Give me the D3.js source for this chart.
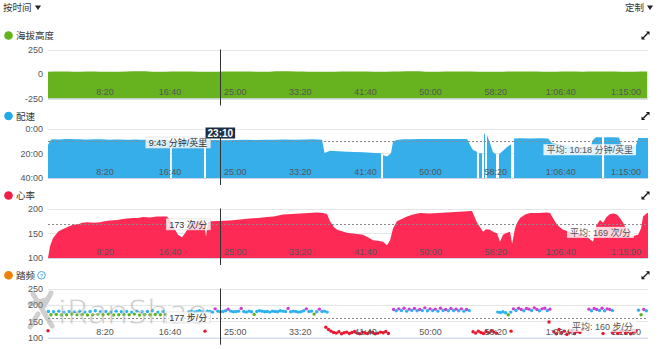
<!DOCTYPE html>
<html><head><meta charset="utf-8">
<script src="https://cdn.jsdelivr.net/npm/d3@7"></script>
<style>
body{margin:0;background:#fff}
svg{display:block;font-family:"Liberation Sans",Arial,"Noto Sans CJK SC",sans-serif}
</style></head>
<body><svg id="c" width="660" height="349"></svg>
<script>
// ---------------- DATA ----------------
const timeDomain = [67, 4673];               // seconds
const xTicks = [500,1000,1500,2000,2500,3000,3500,4000,4500];

const altTicks = [-250, 0, 250];
const altStart = 67, altStep = 100;
const altitude = [24,25,23,26,24,22,25,27,24,23,25,26,22,24,26,25,23,24,27,25,23,22,24,26,25,23,24,25,27,24,23,25,26,24,22,24,25,26,24,23,25,24,26,25,23,24,25];

const paceTicks = [0, 20, 40];                // minutes per mile
const pace = [
 [67,13.3],[82,10],[97,8.7],[159,8.8],[200,8.5],[236,8.4],[280,8.7],[313,8.6],[350,8.8],[390,8.9],[430,8.6],[466,8.7],
 [510,8.9],[543,9.0],[580,8.8],[620,8.8],[660,9.0],[697,9.1],[740,8.9],[774,9.0],[810,9.1],[850,9.2],[890,9.0],[927,9.0],
 [970,9.2],[1004,9.3],[1011,null],[1018,9.5],[1080,9.6],[1157,9.4],[1234,9.3],[1265,9.4],[1272,null],[1280,9.4],
 [1349,9.2],[1426,9.4],[1503,9.2],[1580,9.0],[1657,9.3],[1733,9.1],[1810,9.0],[1887,8.9],[1964,9.1],[2040,8.8],
 [2102,8.7],[2171,9.0],[2190,19.8],[2232,17.9],[2300,18.3],[2362,18.7],[2420,18.9],[2485,19.2],[2550,19.6],[2616,20],
 [2624,20],[2632,null],[2639,21.4],[2669,22.7],[2700,20],[2716,10.6],[2746,9.3],[2792,8.7],[2860,8.6],[2923,8.5],
 [3000,8.4],[3076,8.4],[3150,8.5],[3230,8.4],[3284,8.5],[3307,13.3],[3330,17.3],[3360,18.7],[3368,null],[3376,20],
 [3399,20],[3407,null],[3414,3.9],[3422,5],[3430,null],[3437,5.2],[3460,12],[3483,19],[3506,21],[3522,null],
 [3529,21],[3560,18],[3591,15],[3622,12.7],[3630,null],[3645,8.0],[3691,7.9],[3768,8.0],[3845,7.8],[3906,8.0],
 [3937,12],[3998,13],[4075,14],[4152,15],[4228,16],[4251,9],[4274,7],[4320,7],[4328,null],[4336,7.1],[4397,7.0],
 [4451,7.2],[4466,13],[4535,15],[4581,14],[4597,7.7],[4673,7.7]
];
const paceAvg = 10.3, paceAvgLabel = "10:18", paceCursorLabel = "9:43";

const hrTicks = [100, 150, 200];
const heartRate = [
 [67,100],[82,123],[105,140],[144,153],[170,157],[197,160],[230,164],[259,167],[300,168],[330,171],[366,172],[420,171],
 [466,172],[500,174],[543,176],[600,177],[640,179],[674,180],[720,181],[760,181],[796,183],[850,182],[900,184],[980,184],
 [1004,177],[1027,164],[1065,147],[1096,142],[1119,150],[1157,167],[1200,172],[1234,174],[1265,173],[1280,143],
 [1295,172],[1311,174],[1380,175],[1464,176],[1540,178],[1618,180],[1680,181],[1748,183],[1800,184],[1871,188],
 [1940,189],[2002,190],[2070,191],[2132,192],[2180,191],[2209,189],[2232,174],[2260,163],[2286,157],[2362,151],
 [2420,149],[2485,147],[2530,141],[2562,136],[2600,135],[2639,133],[2669,126],[2693,136],[2716,160],[2746,174],
 [2790,180],[2823,184],[2870,188],[2923,191],[2999,190],[3060,191],[3130,192],[3190,193],[3253,194],[3322,195],
 [3361,171],[3407,153],[3430,158],[3460,157],[3490,152],[3514,150],[3537,133],[3560,147],[3590,151],[3614,153],
 [3630,129],[3652,160],[3670,172],[3691,181],[3730,188],[3768,191],[3830,191],[3898,192],[3921,191],[3950,178],
 [3975,167],[4021,157],[4070,153],[4129,150],[4170,147],[4205,143],[4251,133],[4275,165],[4305,177],[4328,171],
 [4355,183],[4382,189],[4410,190],[4435,188],[4460,180],[4482,171],[4510,156],[4535,143],[4597,147],[4620,160],
 [4635,184],[4666,191],[4673,191]
];
const hrAvg = 169, hrCursor = 173;

const cadTicks = [100, 150, 200, 250];
const cadStep = 20;
const cadenceRuns = [
 {t0:70, vals:[180,170,179,171,181,169,178,170,180,172,179,170,181,171,178,169,180,170,182,171,179,170,180,172,178,169,181,170,179,171,180,170,178,172,181,169,179,171,180,170,182,171,178,170,180,171]},
 {t0:1150, vals:[179,181,178,180,182,179,170,181,180,178,188,181,179,180,182,187,181,179,180,181,189,180,178,181,179,171,180,182,181,179,180,178,181,180,179,182,181,180,189,179,181,180,178,179,182,188,180,181,172,179,187,180,181,178]},
 {t0:2200, vals:[132,125,120,116,114,118,112,115,117,113,116,119,114,112,117,115,113,118,116,112,114,117,115,119,113]},
 {t0:2720, vals:[186,182,188,183,190,181,187,183,189,182,186,183,191,182,188,183,187,181,190,183,186,182,189,183,187,182,188,181,186,183]},
 {t0:3330, vals:[118,114,120,116,113,119,115,121,117,114]},
 {t0:3520, vals:[178,177,179,176,170,178]},
 {t0:3640, vals:[188,183,190,186,182,189,187,183,191,186,182,188,190,183,187]},
 {t0:3950, vals:[118,112,125,115,120,110,117,122,113,119,116,124]},
 {t0:4220, vals:[187,182,189,186,183,190,182,188,186,183]},
 {t0:4400, vals:[116,120,113,118,122,114,119,112,117,121]},
 {t0:4600, vals:[184,170,186,182]}
];
const cadenceSingles = [[67,121],[1272,120],[3622,120],[3913,148],[4328,113]];
const cadAvg = 160, cadCursor = 177;
const cursorTime = 1390;

// ---------------- HELPERS ----------------
const svg = d3.select("#c");
const pad = n => String(n).padStart(2, "0");
const fmtTime = s => { const h=Math.floor(s/3600), m=Math.floor(s%3600/60), ss=s%60;
  return h ? `${h}:${pad(m)}:${pad(ss)}` : `${m}:${pad(ss)}`; };
const cadColor = v => v>=185 ? "#d43ad6" : v>=174 ? "#2eb1ef" : v>=164 ? "#5cb31c" : v>=153 ? "#f39200" : "#e8162f";

const L = 48, R = 648;
const x = d3.scaleLinear().domain(timeDomain).range([L, R]);
const cx = x(cursorTime);

// top bar
svg.append("text").attr("x",3).attr("y",11).attr("font-size",9.5).attr("fill","#333").text("按时间");
svg.append("path").attr("d","M35,5.5h6l-3,4.5z").attr("fill","#222");
svg.append("text").attr("x",644).attr("y",11).attr("text-anchor","end").attr("font-size",9.5).attr("fill","#333").text("定制");
svg.append("path").attr("d","M647,5.5h6l-3,4.5z").attr("fill","#222");

const panels = [
 {title:"海拔高度", dot:"#64b31c", ly:35.5, top:49.5, bottom:98.5, domain:[-250,250], ticks:altTicks, fmt:d=>d},
 {title:"配速", dot:"#22a9e8", ly:116, top:128.5, bottom:178, domain:[0,40], inverted:true, ticks:paceTicks, fmt:d=>`${d}:00`},
 {title:"心率", dot:"#f01d47", ly:195.5, top:208.5, bottom:258, domain:[100,200], ticks:hrTicks, fmt:d=>d},
 {title:"踏频", dot:"#f08000", ly:275.3, top:288.5, bottom:337.7, domain:[100,250], ticks:cadTicks, fmt:d=>d, help:true}
];

panels.forEach(p => {
  p.y = d3.scaleLinear().domain(p.domain).range(p.inverted ? [p.top, p.bottom] : [p.bottom, p.top]);
  const g = svg.append("g");
  g.append("circle").attr("cx",8.5).attr("cy",p.ly).attr("r",4.3).attr("fill",p.dot);
  g.append("text").attr("x",16).attr("y",p.ly+3.5).attr("font-size",9.5).attr("fill","#333").text(p.title);
  if (p.help) {
    g.append("circle").attr("cx",41.5).attr("cy",p.ly).attr("r",3.8).attr("fill","none").attr("stroke","#3a9fe0").attr("stroke-width",0.9);
    g.append("text").attr("x",41.5).attr("y",p.ly+2.3).attr("text-anchor","middle").attr("font-size",6).attr("fill","#3a9fe0").text("?");
  }
  const ex = 645.5, ey = p.ly;
  g.append("path").attr("d",`M${ex+4},${ey-4}h-3.6l3.6,3.6z M${ex-4},${ey+4}h3.6l-3.6,-3.6z`).attr("fill","#111");
  g.append("path").attr("d",`M${ex-2.2},${ey+2.2}L${ex+2.2},${ey-2.2}`).attr("stroke","#111").attr("stroke-width",1.3);
  g.selectAll(".grid").data(p.ticks).join("line")
    .attr("x1",L).attr("x2",R).attr("y1",d=>Math.round(p.y(d))+0.5).attr("y2",d=>Math.round(p.y(d))+0.5)
    .attr("stroke","#e6e6e6");
  const ay = g.append("g").attr("transform",`translate(${L},0)`)
    .call(d3.axisLeft(p.y).tickValues(p.ticks).tickFormat(p.fmt).tickSize(0).tickPadding(5));
  ay.select(".domain").remove();
  ay.selectAll("text").attr("font-size",9).attr("fill","#555").attr("font-family",null);
  p.g = g;
});

{
  const p = panels[0];
  p.g.append("path").datum(altitude)
    .attr("d", d3.area().x((d,i)=>x(altStart+i*altStep)).y0(p.y(-250)).y1(d=>p.y(d)).curve(d3.curveMonotoneX))
    .attr("fill","#66b31f");
}
{
  const p = panels[1];
  p.g.append("path").datum(pace)
    .attr("d", d3.area().defined(d=>d[1]!=null).x(d=>x(d[0])).y0(p.y(40)).y1(d=>p.y(d[1])))
    .attr("fill","#35aeea");
}
{
  const p = panels[2];
  p.g.append("path").datum(heartRate)
    .attr("d", d3.area().x(d=>x(d[0])).y0(p.y(100)).y1(d=>p.y(d[1])))
    .attr("fill","#fd2a55");
}
{
  const p = panels[3];
  const pts = [];
  cadenceRuns.forEach(r => r.vals.forEach((v,i) => pts.push([r.t0 + i*cadStep, v])));
  cadenceSingles.forEach(d => pts.push(d));
  p.g.selectAll(".cd").data(pts).join("circle")
    .attr("cx",d=>x(d[0])).attr("cy",d=>p.y(d[1])).attr("r",1.7).attr("fill",d=>cadColor(d[1]));
}

const avgs = [null, paceAvg, hrAvg, cadAvg];
panels.forEach((p,i) => {
  p.g.append("line").attr("x1",L).attr("x2",R).attr("y1",p.bottom+0.5).attr("y2",p.bottom+0.5).attr("stroke","#ccd6eb");
  if (avgs[i] != null) {
    const yy = Math.round(p.y(avgs[i]))+0.5;
    p.g.append("line").attr("x1",L).attr("x2",R).attr("y1",yy).attr("y2",yy)
      .attr("stroke","#8a8a8a").attr("stroke-dasharray","2,2");
  }
  const ax = p.g.append("g").attr("transform",`translate(0,${p.bottom-9.5})`)
    .call(d3.axisBottom(x).tickValues(xTicks).tickFormat(fmtTime).tickSize(0).tickPadding(0));
  ax.select(".domain").remove();
  ax.selectAll("text").attr("font-size",9).attr("fill","#555").attr("font-family",null);
});

// watermark
{
  const w = svg.append("g").attr("opacity",0.4);
  w.append("path").attr("d","M33,294 L52,326 M51,293 L44,306 M38,314 L30,327 M30,304 L46,300")
    .attr("stroke","#888").attr("stroke-width",5).attr("stroke-linecap","round").attr("fill","none");
  w.append("text").attr("x",58).attr("y",324).attr("font-size",35).attr("font-family","Open Sans")
    .attr("textLength",150).attr("lengthAdjust","spacingAndGlyphs").attr("fill","#8c8c8c")
    .attr("stroke","#fff").attr("stroke-width",0.8).text("iRanShao");
}

panels.forEach((p,i) => {
  svg.append("line").attr("x1",Math.round(cx)+0.5).attr("x2",Math.round(cx)+0.5)
    .attr("y1",i===1 ? p.top+9 : p.top).attr("y2",p.bottom+7).attr("stroke","#333").attr("stroke-width",1);
});

function label(parent, text, xr, yc, opts={}) {
  const g = parent.append("g");
  const r = g.append("rect");
  const t = g.append("text").attr("font-size",9).attr("fill",opts.color||"#333").attr("text-anchor","end")
    .attr("x",xr-3).attr("y",yc+3.2).text(text);
  const w = t.node().getComputedTextLength();
  r.attr("x",xr-w-6).attr("y",yc-5.5).attr("width",w+6).attr("height",11)
   .attr("fill","#fff").attr("fill-opacity",opts.op||0.8)
   .attr("stroke",opts.stroke||"none").attr("stroke-width",0.6);
  return g;
}

label(svg, `${paceCursorLabel} 分钟/英里`, cx-10, panels[1].y(9.72)+2, {stroke:"#d8d8d8"});
label(svg, `${hrCursor} 次/分`, cx-10, panels[2].y(hrCursor)+2.5, {stroke:"#d8d8d8"});
label(svg, `${cadCursor} 步/分`, cx-10, panels[3].y(cadCursor)+5, {stroke:"#d8d8d8", op:0.7});

label(svg, `平均: ${paceAvgLabel} 分钟/英里`, 636, panels[1].y(paceAvg)+8.5, {color:"#555", op:0.85});
label(svg, `平均: ${hrAvg} 次/分`, 634, panels[2].y(hrAvg)+8.5, {color:"#555", op:0.8});
label(svg, `平均: ${cadAvg} 步/分`, 636, panels[3].y(cadAvg)+8.5, {color:"#555", op:0.7});

{
  const g = svg.append("g");
  const yc = 133;
  const t = g.append("text").attr("x",cx).attr("y",yc+3.5).attr("text-anchor","middle")
    .attr("font-size",10).attr("font-weight","bold").attr("fill","#fff").text(fmtTime(cursorTime));
  const w = t.node().getComputedTextLength();
  g.insert("rect","text").attr("x",cx-w/2-2).attr("y",yc-5.5).attr("width",w+4).attr("height",11).attr("fill","#1d2e44");
}
</script></body></html>
